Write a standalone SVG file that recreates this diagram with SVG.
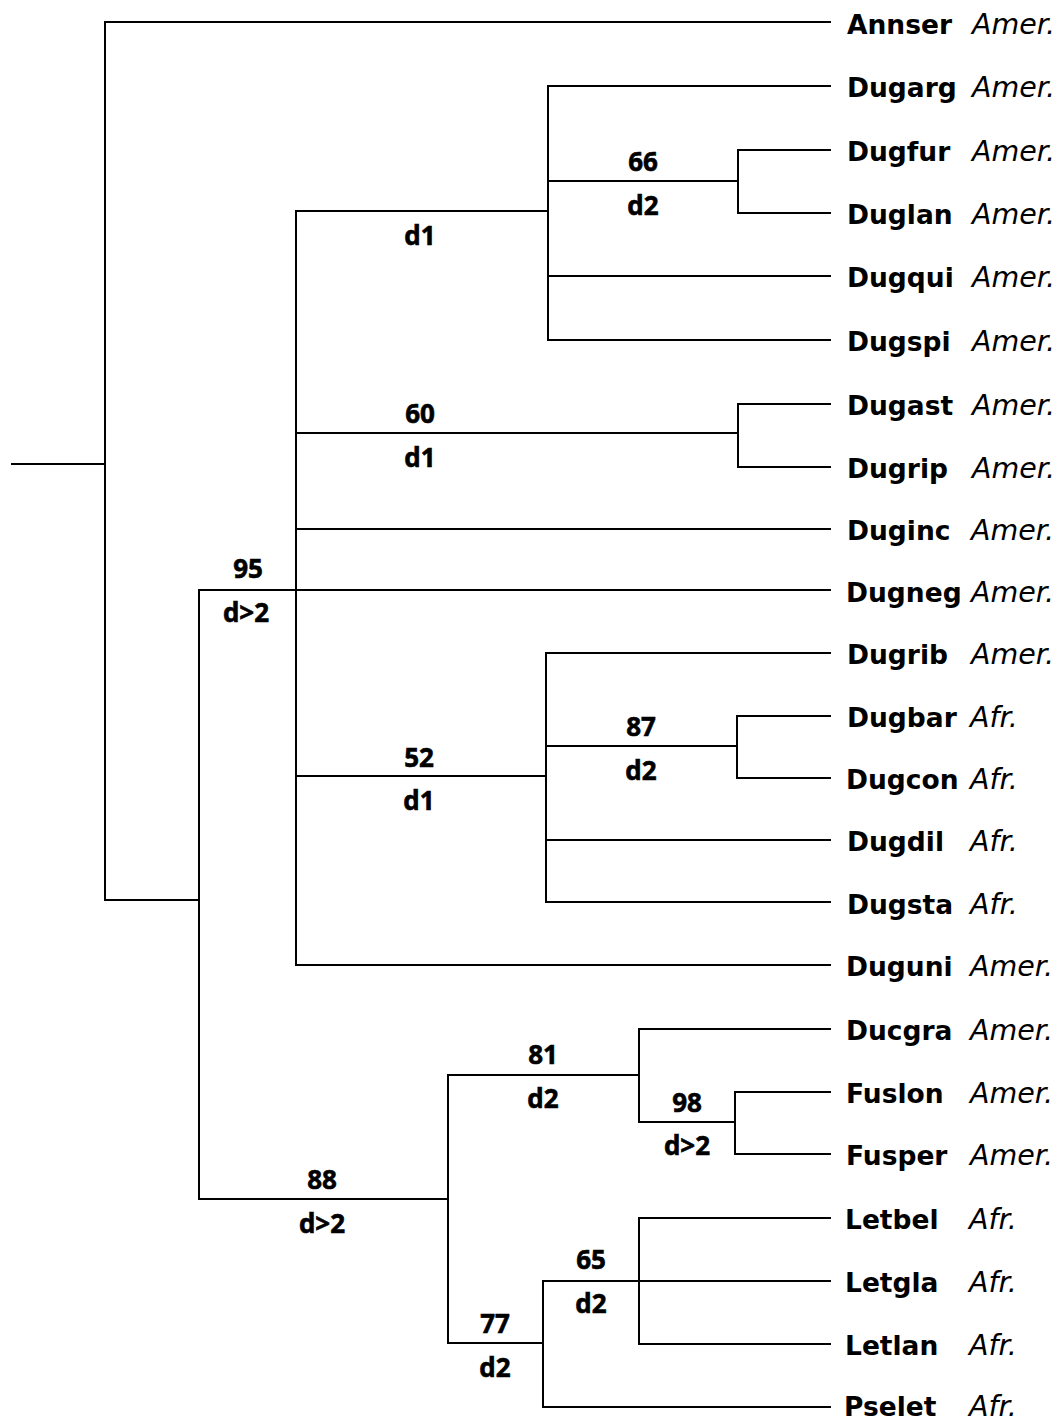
<svg xmlns="http://www.w3.org/2000/svg" width="1064" height="1421" viewBox="0 0 1064 1421">
<style>
.e{stroke:#000;stroke-width:2;fill:none;stroke-linecap:square}
.t{font-family:"DejaVu Sans","Liberation Sans",sans-serif;font-weight:bold;font-size:26.5px;fill:#000}
.r{font-family:"DejaVu Sans","Liberation Sans",sans-serif;font-style:italic;font-size:28.5px;fill:#000}
.l{font-family:"Open Sans","Liberation Sans",sans-serif;font-weight:bold;font-size:26px;fill:#000;stroke:#000;stroke-width:0.6;text-anchor:middle}
</style>
<rect width="1064" height="1421" fill="#fff"/>
<g id="connectors">
<path class="e" d="M12,464H105M105,22V900M105,22H830M105,900H199"/>
<path class="e" d="M199,590V1199M199,590H830"/>
<path class="e" d="M296,211V965M296,211H548M548,86V340M548,86H830M548,181H738M738,150V213M738,150H830M738,213H830M548,276H830M548,340H830"/>
<path class="e" d="M296,433H738M738,404V467M738,404H830M738,467H830M296,529H830"/>
<path class="e" d="M296,776H546M546,653V902M546,653H830M546,746H737M737,716V778M737,716H830M737,778H830M546,840H830M546,902H830M296,965H830"/>
<path class="e" d="M199,1199H448M448,1075V1343M448,1075H639M639,1029V1122M639,1029H830M639,1122H735M735,1092V1154M735,1092H830M735,1154H830"/>
<path class="e" d="M448,1343H543M543,1281V1407M543,1281H830M543,1407H830M639,1218V1344M639,1218H830M639,1344H830"/>
</g>
<g id="branch-labels">
<text class="l" x="248" y="578">95</text><text class="l" x="246" y="622">d&gt;2</text>
<text class="l" x="420" y="245">d1</text>
<text class="l" x="643" y="171">66</text><text class="l" x="643" y="215">d2</text>
<text class="l" x="420" y="423">60</text><text class="l" x="420" y="467">d1</text>
<text class="l" x="419" y="767">52</text><text class="l" x="419" y="810">d1</text>
<text class="l" x="641" y="736">87</text><text class="l" x="641" y="780">d2</text>
<text class="l" x="322" y="1189">88</text><text class="l" x="322" y="1233">d&gt;2</text>
<text class="l" x="543" y="1064">81</text><text class="l" x="543" y="1108">d2</text>
<text class="l" x="687" y="1112">98</text><text class="l" x="687" y="1155">d&gt;2</text>
<text class="l" x="591" y="1269">65</text><text class="l" x="591" y="1313">d2</text>
<text class="l" x="495" y="1333">77</text><text class="l" x="495" y="1377">d2</text>
</g>
<g id="n-Annser"><text class="t" x="847" y="34">Annser</text><text class="r" x="972" y="34">Amer.</text></g>
<g id="n-Dugarg"><text class="t" x="847" y="97">Dugarg</text><text class="r" x="972" y="97">Amer.</text></g>
<g id="n-Dugfur"><text class="t" x="847" y="161">Dugfur</text><text class="r" x="972" y="161">Amer.</text></g>
<g id="n-Duglan"><text class="t" x="847" y="224">Duglan</text><text class="r" x="972" y="224">Amer.</text></g>
<g id="n-Dugqui"><text class="t" x="847" y="287">Dugqui</text><text class="r" x="972" y="287">Amer.</text></g>
<g id="n-Dugspi"><text class="t" x="847" y="351">Dugspi</text><text class="r" x="972" y="351">Amer.</text></g>
<g id="n-Dugast"><text class="t" x="847" y="415">Dugast</text><text class="r" x="972" y="415">Amer.</text></g>
<g id="n-Dugrip"><text class="t" x="847" y="478">Dugrip</text><text class="r" x="972" y="478">Amer.</text></g>
<g id="n-Duginc"><text class="t" x="847" y="540">Duginc</text><text class="r" x="971" y="540">Amer.</text></g>
<g id="n-Dugneg"><text class="t" x="846" y="602">Dugneg</text><text class="r" x="971" y="602">Amer.</text></g>
<g id="n-Dugrib"><text class="t" x="847" y="664">Dugrib</text><text class="r" x="971" y="664">Amer.</text></g>
<g id="n-Dugbar"><text class="t" x="847" y="727">Dugbar</text><text class="r" x="970" y="727">Afr.</text></g>
<g id="n-Dugcon"><text class="t" x="846" y="789">Dugcon</text><text class="r" x="970" y="789">Afr.</text></g>
<g id="n-Dugdil"><text class="t" x="847" y="851">Dugdil</text><text class="r" x="970" y="851">Afr.</text></g>
<g id="n-Dugsta"><text class="t" x="847" y="914">Dugsta</text><text class="r" x="970" y="914">Afr.</text></g>
<g id="n-Duguni"><text class="t" x="846" y="976">Duguni</text><text class="r" x="970" y="976">Amer.</text></g>
<g id="n-Ducgra"><text class="t" x="846" y="1040">Ducgra</text><text class="r" x="970" y="1040">Amer.</text></g>
<g id="n-Fuslon"><text class="t" x="846" y="1103">Fuslon</text><text class="r" x="970" y="1103">Amer.</text></g>
<g id="n-Fusper"><text class="t" x="846" y="1165">Fusper</text><text class="r" x="970" y="1165">Amer.</text></g>
<g id="n-Letbel"><text class="t" x="845" y="1229">Letbel</text><text class="r" x="969" y="1229">Afr.</text></g>
<g id="n-Letgla"><text class="t" x="845" y="1292">Letgla</text><text class="r" x="969" y="1292">Afr.</text></g>
<g id="n-Letlan"><text class="t" x="845" y="1355">Letlan</text><text class="r" x="969" y="1355">Afr.</text></g>
<g id="n-Pselet"><text class="t" x="844" y="1416">Pselet</text><text class="r" x="969" y="1416">Afr.</text></g>
</svg>
